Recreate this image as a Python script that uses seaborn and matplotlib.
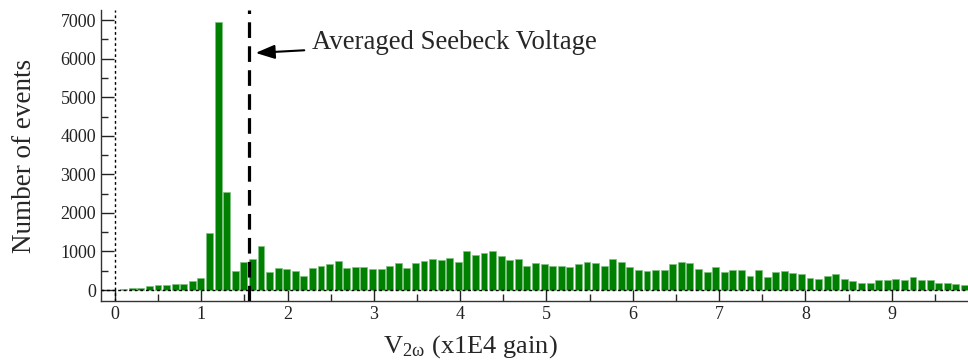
import numpy as np
import matplotlib
matplotlib.use("Agg")
import matplotlib.pyplot as plt
import seaborn as sns
from matplotlib.ticker import MultipleLocator

# histogram bins (bin index -> counts)
bin_index = list(range(1, 100))
counts = [
    35, 45, 45, 95, 120, 120, 147, 147, 233, 320,
    1470, 6950, 2540, 493, 718, 795, 1141, 467, 570, 544,
    493, 372, 565, 622, 665, 760, 562, 596, 588, 536,
    536, 622, 708, 562, 708, 743, 795, 769, 821, 734,
    1020, 907, 959, 1020, 881, 769, 795, 622, 708, 665,
    622, 622, 596, 665, 734, 708, 622, 795, 734, 596,
    510, 484, 510, 510, 665, 734, 708, 536, 458, 596,
    458, 510, 510, 372, 519, 346, 458, 484, 432, 406,
    320, 285, 372, 406, 285, 233, 181, 181, 259, 259,
    285, 259, 346, 259, 259, 181, 181, 147, 121,
]
bin_width = 0.0994
bin_ref_center = 1.195   # centre of bin 12
avg_seebeck = 1.55

centers = [round(bin_ref_center + (k - 12) * bin_width, 4) for k in bin_index]

sns.set_style("white")
plt.rcParams["font.family"] = ["Liberation Serif", "DejaVu Serif"]
plt.rcParams["mathtext.fontset"] = "stix"

fig = plt.figure(figsize=(9.68, 3.62), dpi=100)
ax = fig.add_axes([0.1043, 0.1685, 0.8957, 0.8035])

sns.barplot(x=centers, y=counts, native_scale=True, orient="x", width=0.8,
            color="#008000", saturation=1, errorbar=None,
            edgecolor="#7fbf7f", linewidth=0.5, ax=ax)

# reference lines
ax.axhline(0, color="black", lw=1, ls=(0, (2, 2)), zorder=3)
ax.axvline(0, color="black", lw=1, ls=(0, (2, 2)), zorder=3)
ax.axvline(avg_seebeck, color="black", lw=2.3, dashes=(4.9, 2.6), zorder=4)

ax.annotate("Averaged Seebeck Voltage", xy=(1.63, 6150), xytext=(2.28, 6430),
            fontsize=19.3, va="center", ha="left",
            arrowprops=dict(arrowstyle="-|>,head_length=0.6,head_width=0.22",
                            color="black", lw=1.5, shrinkA=3, shrinkB=0))

ax.set_xlim(-0.162, 9.884)
ax.set_ylim(-285, 7260)
ax.xaxis.set_major_locator(MultipleLocator(1))
ax.xaxis.set_minor_locator(MultipleLocator(0.5))
ax.yaxis.set_major_locator(MultipleLocator(1000))
ax.yaxis.set_minor_locator(MultipleLocator(500))
ax.tick_params(which="major", direction="in", length=9, width=1, labelsize=13,
               colors="#222222", bottom=True, left=True)
ax.tick_params(which="minor", direction="in", length=5, width=1,
               bottom=True, left=True)

for side in ["top", "right"]:
    ax.spines[side].set_visible(False)
for side in ["left", "bottom"]:
    ax.spines[side].set_color("#333333")
    ax.spines[side].set_linewidth(1)

ax.set_xlabel(r"V$_{\mathregular{2ω}}$ (x1E4 gain)", fontsize=19)
ax.xaxis.set_label_coords(0.4256, -0.11)
ax.set_ylabel("Number of events", fontsize=19.5, labelpad=17)

fig.savefig("out.png", dpi=100)
